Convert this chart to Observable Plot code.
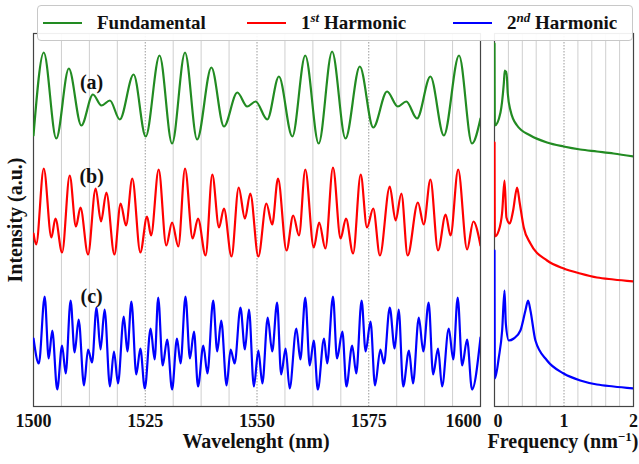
<!DOCTYPE html>
<html><head><meta charset="utf-8">
<script src="https://cdn.jsdelivr.net/npm/d3@7"></script>
<script src="https://cdn.jsdelivr.net/npm/@observablehq/plot@0.6"></script>
<style>
body{margin:0;background:#fff;}
#wrap{position:relative;width:639px;height:464px;overflow:hidden;font-family:"Liberation Serif",serif;font-weight:bold;color:#111;}
#left,#right{position:absolute;top:0;}
#left{left:0;} #right{left:487px;}
svg{overflow:visible;}
#legend{position:absolute;left:37px;top:5px;width:594px;height:34px;border:1px solid #c8c8c8;border-radius:4px;background:rgba(255,255,255,0.92);z-index:5;}
.item{position:absolute;top:0;height:34px;display:flex;align-items:center;font-size:19px;white-space:nowrap;}
.swatch{display:inline-block;width:39px;height:0;border-top:2px solid;margin-right:15px;}
.item sup{font-size:13px;font-style:italic;line-height:0;}
.xlab{position:absolute;font-size:20px;white-space:nowrap;transform:translate(-50%,-50%);}
.ylab{position:absolute;font-size:20px;white-space:nowrap;transform:translate(-50%,-50%) rotate(-90deg);}
</style></head>
<body>
<div id="wrap">
  <div id="left"></div>
  <div id="right"></div>
  <div class="xlab" style="left:256px;top:441px;">Wavelenght (nm)</div>
  <div class="xlab" style="left:563px;top:441px;">Frequency (nm<sup style="font-size:13px">−1</sup>)</div>
  <div class="ylab" style="left:15px;top:220px;">Intensity (a.u.)</div>
  <div id="legend"></div>
</div>
<script>
// ---- data ----
const seriesNames = ["Fundamental", "1st Harmonic", "2nd Harmonic"];
const seriesColors = ["#228b22", "#ff0000", "#0000ff"];
const wlTicks = [1500, 1525, 1550, 1575, 1600];
const freqTicks = [0, 1, 2];

const fundWl = [1500,1502.3,1505.1,1507.9,1510.7,1513.3,1515.2,1517.1,1519.3,1522.4,1525.1,1528.2,1531.0,1533.9,1536.6,1539.8,1542.6,1545.6,1547.8,1549.7,1552.3,1554.9,1557.9,1560.8,1563.8,1566.8,1569.8,1573.0,1576.0,1579.1,1581.5,1583.4,1585.8,1588.8,1591.8,1595.2,1598.1,1600];
const fundI = [2.71,3.54,2.68,3.38,2.81,3.12,3.01,3.06,2.87,3.32,2.70,3.51,2.63,3.54,2.67,3.39,2.80,3.14,3.00,3.05,2.87,3.30,2.70,3.51,2.63,3.55,2.68,3.40,2.79,3.15,3.00,3.05,2.88,3.30,2.71,3.51,2.63,2.88];

const h1Wl = [1500,1500.6,1502.3,1504.0,1504.9,1506.4,1508.1,1509.5,1510.5,1512.2,1513.9,1515.1,1516.3,1518.1,1519.5,1520.7,1522.1,1523.9,1525.4,1526.3,1528.0,1529.7,1531.0,1532.4,1533.9,1535.6,1536.8,1538.5,1540.0,1541.5,1542.6,1544.3,1545.9,1547.3,1548.5,1550.3,1552.1,1553.4,1554.7,1556.6,1558.1,1559.4,1560.8,1562.7,1563.9,1565.3,1567.0,1568.7,1569.9,1571.5,1573.2,1574.6,1576.0,1577.5,1579.7,1581.0,1582.3,1583.7,1586.0,1587.3,1588.8,1590.5,1592.2,1593.3,1595.0,1597.0,1598.4,1600];
const h1I = [1.73,1.62,2.38,1.69,1.88,1.54,2.31,1.80,1.99,1.52,2.18,1.85,2.14,1.52,2.03,1.81,2.28,1.54,1.90,1.71,2.37,1.61,1.84,1.60,2.38,1.68,1.88,1.51,2.32,1.79,1.98,1.50,2.19,1.88,2.13,1.50,2.03,1.82,2.28,1.56,1.91,1.71,2.37,1.59,1.84,1.58,2.39,1.68,1.88,1.53,2.32,1.79,1.98,1.51,2.20,1.86,2.13,1.51,2.04,1.82,2.27,1.56,1.92,1.71,2.37,1.57,1.85,1.61];

const h2Wl = [1500,1501.2,1502.5,1503.4,1504.2,1505.3,1506.4,1507.2,1508.3,1509.2,1510.1,1511.3,1512.2,1513.1,1514.1,1515.0,1515.9,1517.1,1518.0,1518.9,1520.2,1521.0,1521.9,1523.0,1523.9,1524.9,1526.2,1527.1,1527.9,1528.9,1529.9,1531.0,1532.1,1532.9,1534.0,1535.0,1535.9,1536.8,1538.0,1538.9,1540.2,1541.1,1542.0,1543.2,1544.1,1545.0,1546.3,1547.3,1548.2,1549.3,1550.3,1551.2,1552.4,1553.4,1554.5,1555.4,1556.4,1557.3,1558.8,1559.7,1560.8,1561.8,1562.7,1563.6,1565.0,1565.7,1567.0,1567.9,1569.1,1570.0,1571.3,1572.2,1573.4,1574.3,1575.4,1576.4,1577.6,1578.4,1579.7,1580.8,1581.7,1582.7,1584.0,1584.9,1586.2,1587.2,1588.4,1589.4,1590.5,1591.4,1592.9,1593.9,1594.9,1595.9,1597.0,1598.1,1600];
const h2I = [0.68,0.43,1.10,0.48,0.76,0.17,0.61,0.33,1.06,0.54,0.87,0.21,0.57,0.44,0.99,0.57,0.97,0.20,0.55,0.23,0.90,0.55,1.05,0.32,0.58,0.18,0.78,0.47,1.09,0.41,0.67,0.17,0.68,0.43,1.10,0.48,0.75,0.20,0.61,0.33,1.06,0.55,0.86,0.21,0.57,0.43,0.99,0.57,0.97,0.20,0.56,0.23,0.89,0.55,1.04,0.32,0.58,0.18,0.78,0.47,1.09,0.41,0.66,0.17,0.68,0.43,1.10,0.48,0.75,0.20,0.61,0.33,1.06,0.55,0.85,0.21,0.57,0.43,0.99,0.58,0.97,0.20,0.56,0.23,0.89,0.55,1.04,0.32,0.58,0.20,0.78,0.47,1.09,0.41,0.67,0.17,0.69];

const fundSpecF = [0,0.005,0.086,0.134,0.148,0.163,0.172,0.191,0.230,0.325,0.517,0.756,0.995,1.234,1.474,1.713,2.0];
const fundSpecA = [3.63,2.81,2.94,3.23,3.36,3.33,3.35,3.13,2.96,2.81,2.71,2.64,2.60,2.57,2.55,2.53,2.50];
const h1SpecF = [0,0.005,0.062,0.110,0.144,0.172,0.220,0.268,0.325,0.364,0.421,0.517,0.756,0.995,1.234,1.474,1.713,2.0];
const h1SpecA = [2.64,1.70,1.76,1.94,2.26,1.89,1.83,1.96,2.19,2.03,1.79,1.63,1.46,1.38,1.33,1.29,1.27,1.25];
const h2SpecF = [0,0.005,0.062,0.110,0.144,0.163,0.206,0.278,0.373,0.445,0.483,0.517,0.589,0.756,0.995,1.234,1.474,1.713,2.0];
const h2SpecA = [1.56,0.28,0.49,0.76,1.16,0.83,0.66,0.68,0.76,0.96,1.06,0.96,0.66,0.46,0.33,0.26,0.22,0.20,0.18];

const panelTags = ["(a)", "(b)", "(c)"];
const panelTagWl = [1513, 1513, 1513];
const panelTagI = [3.24, 2.30, 1.10];

// ---- build tables ----
const rows = (xs, ys, s) => xs.map((x, i) => ({x, y: ys[i], s}));
const waveRows = [
  ...rows(fundWl, fundI, seriesNames[0]),
  ...rows(h1Wl, h1I, seriesNames[1]),
  ...rows(h2Wl, h2I, seriesNames[2])
];
const specRows = [
  ...rows(fundSpecF, fundSpecA, seriesNames[0]),
  ...rows(h1SpecF, h1SpecA, seriesNames[1]),
  ...rows(h2SpecF, h2SpecA, seriesNames[2])
];
const tagRows = panelTags.map((t, i) => ({t, x: panelTagWl[i], y: panelTagI[i]}));

const minorWl = d3.range(1500, 1600.001, 6.25).filter(v => v % 25 !== 0);
const minorF = d3.range(0.2, 2, 0.2).filter(v => Math.abs(v - 1) > 1e-6);

const color = {domain: seriesNames, range: seriesColors};
const style = {fontFamily: "'Liberation Serif', serif", fontSize: "18px", fontWeight: "bold", overflow: "visible", background: "transparent", color: "#111"};
const yDom = [0, 3.73];

const left = Plot.plot({
  width: 487, height: 464,
  marginLeft: 33, marginRight: 7, marginTop: 33, marginBottom: 58,
  x: {domain: [1500, 1600]},
  y: {domain: yDom, axis: null},
  color, style,
  marks: [
    Plot.ruleX(minorWl, {stroke: "#cfcfcf", strokeWidth: 1}),
    Plot.ruleX(wlTicks.slice(1, -1), {stroke: "#9a9a9a", strokeDasharray: "1.5,1.5"}),
    Plot.frame({stroke: "#444", strokeWidth: 1.2}),
    Plot.line(waveRows, {x: "x", y: "y", z: "s", stroke: "s", curve: "monotone-x", strokeWidth: 2.2, clip: true}),
    Plot.text(tagRows, {x: "x", y: "y", text: "t", fontSize: 20, fontWeight: "bold", fill: "#111"}),
    Plot.axisX({ticks: wlTicks.slice(0, -1), tickSize: 0, tickPadding: 8, tickFormat: d => String(d), label: null}),
    Plot.axisX({ticks: wlTicks.slice(-1), tickSize: 0, tickPadding: 8, tickFormat: d => String(d), textAnchor: "end", dx: 1, label: null})
  ]
});
document.getElementById("left").append(left);

const right = Plot.plot({
  width: 152, height: 464,
  marginLeft: 7, marginRight: 6, marginTop: 33, marginBottom: 58,
  x: {domain: [0, 2]},
  y: {domain: yDom, axis: null},
  color, style,
  marks: [
    Plot.ruleX(minorF, {stroke: "#cfcfcf", strokeWidth: 1}),
    Plot.ruleX([1], {stroke: "#9a9a9a", strokeDasharray: "1.5,1.5"}),
    Plot.frame({stroke: "#444", strokeWidth: 1.2}),
    Plot.line(specRows, {x: "x", y: "y", z: "s", stroke: "s", curve: "monotone-x", strokeWidth: 2.2, clip: true}),
    Plot.axisX({ticks: freqTicks.slice(0, 1), tickSize: 0, tickPadding: 8, tickFormat: d => String(d), textAnchor: "start", dx: -1, label: null}),
    Plot.axisX({ticks: freqTicks.slice(1), tickSize: 0, tickPadding: 8, tickFormat: d => String(d), label: null})
  ]
});
document.getElementById("right").append(right);

// ---- legend ----
const legendPos = [5, 209, 415];
const legendHtml = [
  "Fundamental",
  "1<sup>st</sup> Harmonic",
  "2<sup>nd</sup> Harmonic"
];
const lg = document.getElementById("legend");
seriesNames.forEach((n, i) => {
  const d = document.createElement("div");
  d.className = "item";
  d.style.left = legendPos[i] + "px";
  d.innerHTML = `<span class="swatch" style="border-color:${seriesColors[i]}"></span><span>${legendHtml[i]}</span>`;
  lg.append(d);
});
</script>
</body></html>
